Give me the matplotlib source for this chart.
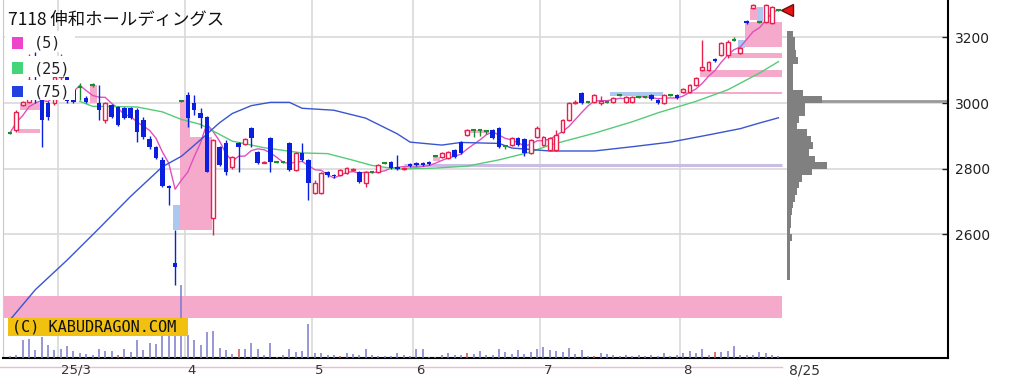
import numpy as np
import pandas as pd
import matplotlib
matplotlib.use("Agg")
import matplotlib.pyplot as plt
from matplotlib.patches import Rectangle
from matplotlib.transforms import blended_transform_factory

plt.rcParams['font.family'] = ['DejaVu Sans', 'Noto Sans CJK JP']

# daily candles, oldest first (late Feb .. 8/25)
opens = [2909, 2918, 2995, 3003, 3070, 3009, 3000, 3000, 3080, 3100,
         3040, 3049, 3015, 3055, 3000, 2948, 2994, 2988, 2985, 2985,
         2979, 2948, 2890, 2866, 2827, 2747, 2513, 3006, 3024, 3000,
         2970, 2957, 2650, 2866, 2878, 2805, 2878, 2875, 2924, 2851,
         2818, 2894, 2820, 2820, 2878, 2796, 2848, 2827, 2726, 2726,
         2790, 2781, 2781, 2787, 2795, 2790, 2757, 2790, 2790, 2817,
         2820, 2805, 2800, 2813, 2818, 2818, 2822, 2839, 2836, 2833,
         2857, 2881, 2903, 2918, 2918, 2915, 2918, 2924, 2869, 2872,
         2894, 2890, 2848, 2897, 2872, 2857, 2857, 2912, 2948, 3000,
         3030, 3003, 3003, 3000, 3003, 3003, 3024, 3003, 3003, 3018,
         3018, 3024, 3009, 3000, 3024, 3024, 3033, 3033, 3055, 3100,
         3100, 3133, 3146, 3146, 3191, 3152, 3249, 3289, 3246, 3246,
         3243, 3283]
highs = [2912, 2978, 3006, 3150, 3155, 3012, 3005, 3090, 3150, 3110,
         3060, 3060, 3020, 3060, 3055, 3003, 2997, 2991, 2988, 2988,
         2985, 2957, 2900, 2870, 2835, 2750, 2613, 3010, 3033, 3024,
         2985, 2960, 2890, 2870, 2887, 2840, 2880, 2894, 2927, 2855,
         2824, 2897, 2823, 2823, 2880, 2851, 2878, 2830, 2765, 2790,
         2793, 2784, 2799, 2805, 2802, 2793, 2793, 2793, 2814, 2820,
         2823, 2842, 2806, 2816, 2821, 2821, 2825, 2842, 2851, 2854,
         2860, 2885, 2921, 2920, 2920, 2918, 2921, 2927, 2871, 2897,
         2897, 2893, 2890, 2930, 2900, 2897, 2918, 2951, 3003, 3009,
         3033, 3006, 3027, 3020, 3006, 3018, 3027, 3021, 3021, 3021,
         3021, 3027, 3012, 3027, 3027, 3027, 3046, 3058, 3079, 3191,
         3128, 3136, 3185, 3191, 3200, 3170, 3252, 3300, 3249, 3300,
         3295, 3286]
lows = [2905, 2912, 2992, 3000, 3000, 2866, 2948, 2995, 3070, 3000,
        3000, 3009, 3000, 3050, 2948, 2939, 2954, 2930, 2951, 2950,
        2881, 2890, 2860, 2830, 2744, 2690, 2446, 3003, 2927, 2964,
        2924, 2790, 2598, 2808, 2781, 2800, 2790, 2872, 2866, 2814,
        2816, 2790, 2817, 2817, 2793, 2793, 2824, 2705, 2722, 2722,
        2775, 2772, 2778, 2784, 2792, 2757, 2745, 2787, 2787, 2814,
        2799, 2795, 2797, 2804, 2809, 2809, 2812, 2836, 2833, 2830,
        2833, 2845, 2900, 2897, 2900, 2905, 2891, 2863, 2860, 2869,
        2869, 2840, 2845, 2895, 2869, 2855, 2855, 2909, 2945, 2998,
        2997, 3000, 3000, 2995, 3000, 3000, 3021, 3000, 3000, 3015,
        3015, 3009, 2997, 2997, 3021, 3012, 3030, 3030, 3052, 3098,
        3097, 3125, 3143, 3137, 3188, 3150, 3240, 3286, 3243, 3243,
        3240, 3280]
closes = [2909, 2973, 3003, 3070, 3045, 2948, 2957, 3080, 3130, 3005,
          3003, 3049, 3003, 3055, 2979, 3000, 2957, 2933, 2954, 2954,
          2912, 2897, 2866, 2833, 2747, 2742, 2500, 3006, 2954, 2979,
          2954, 2790, 2887, 2811, 2790, 2836, 2866, 2890, 2894, 2817,
          2822, 2820, 2820, 2820, 2796, 2848, 2827, 2757, 2757, 2787,
          2781, 2778, 2796, 2802, 2799, 2760, 2790, 2790, 2811, 2817,
          2802, 2800, 2803, 2807, 2812, 2812, 2815, 2839, 2848, 2851,
          2836, 2848, 2918, 2918, 2918, 2915, 2894, 2866, 2869, 2894,
          2872, 2848, 2887, 2924, 2897, 2894, 2903, 2948, 3000, 3003,
          3000, 3003, 3024, 3006, 3003, 3015, 3024, 3018, 3018, 3018,
          3018, 3012, 3000, 3024, 3024, 3015, 3043, 3055, 3076, 3109,
          3125, 3128, 3182, 3185, 3191, 3167, 3243, 3298, 3246, 3298,
          3292, 3283]
volume = [20, 27, 177, 193, 77, 210, 133, 77, 93, 117,
          67, 53, 43, 27, 87, 67, 67, 27, 87, 60,
          183, 77, 150, 137, 233, 233, 233, 730, 227, 177,
          127, 260, 270, 100, 83, 43, 87, 87, 150, 87,
          27, 150, 10, 33, 87, 60, 70, 343, 53, 50,
          33, 27, 20, 53, 43, 27, 87, 27, 20, 20,
          20, 53, 27, 20, 87, 87, 10, 10, 27, 50,
          33, 33, 53, 43, 67, 33, 27, 87, 60, 43,
          77, 43, 60, 93, 110, 77, 67, 60, 100, 43,
          77, 20, 20, 50, 43, 30, 25, 30, 20, 30,
          25, 30, 25, 53, 25, 30, 53, 70, 53, 93,
          27, 60, 60, 70, 120, 33, 27, 33, 60, 50,
          27, 20]
red_volume_days = [17, 36, 52, 72, 92, 111]

# moving averages (candle index, price)
ma25_idx = [11, 13, 20, 24, 27, 30, 35, 40, 46, 50, 54, 57, 61, 67, 72, 77,
            82, 85, 92, 98, 102, 108, 113, 118, 121]
ma25_val = [3005, 2990, 2988, 2973, 2950, 2935, 2884, 2864, 2848, 2846, 2826,
            2810, 2799, 2802, 2808, 2827, 2851, 2872, 2908, 2943, 2970, 3005,
            3040, 3091, 3126]
ma75_idx = [0, 4, 9, 14, 19, 24, 27, 30, 33, 35, 38, 41, 44, 46, 51, 56, 61,
            63, 68, 71, 77, 79, 85, 92, 98, 104, 110, 115, 118, 121]
ma75_val = [2340, 2432, 2522, 2618, 2716, 2806, 2838, 2888, 2940, 2968, 2992,
            3002, 3002, 2984, 2978, 2954, 2906, 2881, 2872, 2880, 2877, 2863,
            2854, 2854, 2867, 2881, 2903, 2922, 2939, 2955]

# price windows (gaps): start idx, end idx, low, high, up-gap?
gap_x0 = [1.6, 1.3, 12.6, 26.8, 28.3, 66.6, 71.5, 108.7, 106.0, 113.0, 115.7, 116.6, 25.7, 114.6, 117.6, 94.5]
gap_x1 = [4.7, 4.7, 13.7, 28.3, 31.8, 67.7, 75.5, 121.6, 121.6, 121.6, 121.6, 117.6, 26.8, 115.7, 118.6, 102.8]
gap_lo = [2979, 2909, 3000, 2613, 2613, 2825, 2909, 3079, 3027, 3137, 3170, 3252, 2613, 3167, 3246, 3021]
gap_hi = [3000, 2920, 3055, 3009, 2897, 2836, 2918, 3100, 3033, 3152, 3246, 3290, 2690, 3191, 3292, 3033]
gap_up = [True] * 12 + [False] * 4

band_lo, band_hi = 2345, 2412
support = 2811
poc_price = 3006

# volume by price
vp_price = [3210, 3190, 3170, 3150, 3130, 3110, 3090, 3070, 3050, 3030,
            3010, 2990, 2970, 2950, 2930, 2910, 2890, 2870, 2850, 2830,
            2810, 2790, 2770, 2750, 2730, 2710, 2690, 2670, 2650, 2630,
            2610, 2590, 2570, 2550, 2530, 2510, 2490, 2470]
vp_vol = [6, 8, 8, 9, 11, 6, 6, 6, 6, 16,
          35, 18, 18, 12, 10, 20, 24, 26, 22, 28,
          40, 25, 15, 12, 10, 8, 6, 5, 4, 4,
          3, 5, 3, 3, 3, 3, 3, 3]

month_start = [8, 28, 48, 64, 84, 106]
month_labels = ["25/3", "4", "5", "6", "7", "8"]
last_label = "8/25"
price_ticks = [2600, 2800, 3000, 3200]

RED, BLUE, GREEN = "#e8204e", "#0a1fe0", "#1f8a2e"
PINK, LBLUE = "#f5a9cb", "#aac8f0"

W, H = 1016, 384
fig = plt.figure(figsize=(W / 100, H / 100), dpi=100)
ax = fig.add_axes([3 / W, 26 / H, 945 / W, 358 / H])
x_min, x_max = -1.1, 147.7
y_min, y_max = 2224, 3313.5
ax.set_xlim(x_min, x_max)
ax.set_ylim(y_min, y_max)

# grid
ax.hlines(price_ticks, x_min, x_max, color="#d9d9d9", lw=1.2, zorder=0)
grid_x = np.array(month_start) - 0.5
ax.vlines(grid_x, y_min, y_max, color="#d9d9d9", lw=1.2, zorder=0)

# band + windows
n = len(closes)
ax.add_patch(Rectangle((x_min, band_lo), n - 0.4 - x_min, band_hi - band_lo,
                       fc=PINK, ec="none", zorder=1))
for x0, x1, lo, hi, upg in zip(gap_x0, gap_x1, gap_lo, gap_hi, gap_up):
    ax.add_patch(Rectangle((x0, lo), x1 - x0, hi - lo,
                           fc=PINK if upg else LBLUE, ec="none", zorder=1))
ax.hlines(support, 62, n - 0.4, color="#c9bde6", lw=2.2, zorder=2)

# moving averages
idx = np.arange(n)
ma5 = pd.Series(closes).rolling(5, min_periods=1).mean()
ax.plot(idx, ma5, color="#e050c0", lw=1, zorder=3)
ax.plot(ma25_idx, ma25_val, color="#55cc77", lw=1, zorder=3)
ax.plot(ma75_idx, ma75_val, color="#3a55d0", lw=1, zorder=3)

# candles
o, h, l, c = (np.array(v) for v in (opens, highs, lows, closes))
up, down, doji = c > o, c < o, c == o
for m, col in ((up, RED), (down, BLUE), (doji, GREEN)):
    ax.vlines(idx[m], l[m], h[m], color=col, lw=1, zorder=4)
ax.bar(idx[up], (c - o)[up], bottom=o[up], width=0.6, facecolor="white",
       edgecolor=RED, lw=1, zorder=5)
ax.bar(idx[down], (o - c)[down], bottom=c[down], width=0.7, color=BLUE, zorder=5)
ax.hlines(c[doji], idx[doji] - 0.35, idx[doji] + 0.35, color=GREEN, lw=1.5, zorder=5)

# volume by price
vp_left = n + 0.4
ax.hlines(poc_price, vp_left, x_max, color="#999999", lw=2, zorder=2)
ax.barh(vp_price, np.array(vp_vol) / 6.35, left=vp_left, height=20,
        color="#808080", zorder=3)
ax.plot(n + 0.4, closes[-1], marker="<", ms=9, mfc="#ee1111", mec="#661111", zorder=7)

# axes styling
ax.set_xticks([])
ax.yaxis.tick_right()
ax.set_yticks(price_ticks)
ax.tick_params(axis="y", direction="in", length=4, width=1, pad=5,
               labelsize=10, colors="#222222")
ax.spines["top"].set_visible(False)
ax.spines["left"].set_color("#c8c8d8")
ax.spines["bottom"].set_linewidth(1.5)
ax.spines["right"].set_linewidth(1.5)

trans = blended_transform_factory(ax.transData, ax.transAxes)
ax.plot([x_min - 0.5, n - 0.4], [-9 / 358] * 2, color="#f2b8cc", lw=1,
        transform=trans, clip_on=False)
for gx, lab in zip(grid_x, month_labels):
    ax.text(gx + 0.5, -12 / 358, lab, transform=trans, ha="left", va="center",
            fontsize=9.5, color="#333333")
ax.text(n + 0.6, -12 / 358, last_label, transform=trans, ha="left",
        va="center", fontsize=10, color="#333333")

# volume
vax = fig.add_axes([3 / W, 26 / H, 945 / W, 80 / H])
vax.set_xlim(x_min, x_max)
vax.set_ylim(0, 800)
vax.axis("off")
vax.patch.set_alpha(0)
vcol = ["#d05050" if i in red_volume_days else "#7b7bcc" for i in idx]
vax.vlines(idx, 0, volume, colors=vcol, lw=1.1)


def fig_box(x0, y0, x1, y1, color):
    fig.add_artist(Rectangle((x0 / W, 1 - y1 / H), (x1 - x0) / W, (y1 - y0) / H,
                             transform=fig.transFigure, fc=color, ec="none", zorder=5))


# legend
fig.text(8 / W, 1 - 20 / H, "7118 伸和ホールディングス", fontsize=12.5,
         family=["Noto Sans CJK JP", "DejaVu Sans"], va="center", color="#111111",
         zorder=6)
for (y0, y1), col, lab in zip([(31, 52), (56, 77), (80, 100)],
                              ["#ee44cc", "#44d47a", "#2040e0"],
                              ["(5)", "(25)", "(75)"]):
    fig_box(5, y0, 75, y1, "white")
    fig_box(12, y0 + 6, 23, y1 - 3, col)
    fig.text(34 / W, 1 - (y0 + y1 + 4) / 2 / H, lab, fontsize=11,
             family="DejaVu Sans Mono", va="center", color="#222222", zorder=6)

# copyright tag
fig_box(8, 318, 188, 336, "#f2c10f")
fig.text(12 / W, 1 - 327.5 / H, "(C) KABUDRAGON.COM", fontsize=11,
         family="DejaVu Sans Mono", va="center", color="#111111", zorder=6)

fig.savefig("out.png", dpi=100)
